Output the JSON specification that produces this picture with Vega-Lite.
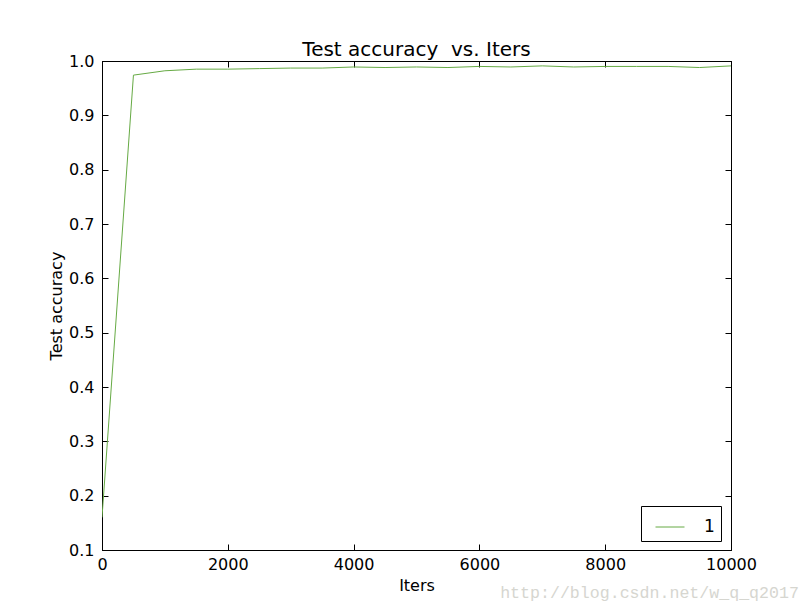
{
  "$schema": "https://vega.github.io/schema/vega-lite/v6.json",
  "width": 629,
  "height": 489,
  "autosize": "none",
  "padding": {"left": 102, "top": 61, "right": 81, "bottom": 62},
  "background": "white",
  "config": {
    "font": "DejaVu Sans",
    "view": {"stroke": "black", "strokeWidth": 1},
    "axis": {"grid": false, "labelFontSize": 16, "labelColor": "black", "titleFontSize": 16, "titleColor": "black", "titleFontWeight": "normal", "domainColor": "black", "tickColor": "black", "tickSize": -6, "labelFont": "DejaVu Sans", "titleFont": "DejaVu Sans"},
    "title": {"fontSize": 20, "fontWeight": "normal", "font": "DejaVu Sans", "color": "black", "offset": -7}
  },
  "title": {"text": "Test accuracy\u00a0 vs. Iters"},
  "data": {"values": [
    {"iter": 0, "acc": 0.16, "series": "1"},
    {"iter": 500, "acc": 0.974, "series": "1"},
    {"iter": 1000, "acc": 0.982, "series": "1"},
    {"iter": 1500, "acc": 0.985, "series": "1"},
    {"iter": 2000, "acc": 0.985, "series": "1"},
    {"iter": 2500, "acc": 0.986, "series": "1"},
    {"iter": 3000, "acc": 0.987, "series": "1"},
    {"iter": 3500, "acc": 0.987, "series": "1"},
    {"iter": 4000, "acc": 0.989, "series": "1"},
    {"iter": 4500, "acc": 0.988, "series": "1"},
    {"iter": 5000, "acc": 0.989, "series": "1"},
    {"iter": 5500, "acc": 0.988, "series": "1"},
    {"iter": 6000, "acc": 0.990, "series": "1"},
    {"iter": 6500, "acc": 0.989, "series": "1"},
    {"iter": 7000, "acc": 0.991, "series": "1"},
    {"iter": 7500, "acc": 0.989, "series": "1"},
    {"iter": 8000, "acc": 0.990, "series": "1"},
    {"iter": 8500, "acc": 0.990, "series": "1"},
    {"iter": 9000, "acc": 0.990, "series": "1"},
    {"iter": 9500, "acc": 0.988, "series": "1"},
    {"iter": 10000, "acc": 0.991, "series": "1"}
  ]},
  "layer": [
    {
      "mark": {"type": "line", "strokeWidth": 1, "clip": true},
      "encoding": {
        "x": {"field": "iter", "type": "quantitative", "scale": {"domain": [0, 10000], "nice": false, "zero": false},
              "axis": {"orient": "bottom", "title": "Iters", "values": [0, 2000, 4000, 6000, 8000, 10000], "format": "d", "labelPadding": 12, "titlePadding": 5, "labelFlush": false}},
        "y": {"field": "acc", "type": "quantitative", "scale": {"domain": [0.1, 1.0], "nice": false, "zero": false},
              "axis": {"orient": "left", "title": "Test accuracy", "values": [0.1, 0.2, 0.3, 0.4, 0.5, 0.6, 0.7, 0.8, 0.9, 1.0], "format": ".1f", "labelPadding": 14, "titlePadding": 4}},
        "color": {"field": "series", "type": "nominal", "scale": {"range": ["#66aa44"]},
                  "legend": {"title": null, "orient": "none", "legendX": 539, "legendY": 445, "symbolType": "stroke", "symbolSize": 841, "symbolStrokeWidth": 1, "symbolOffset": 8, "labelFontSize": 17, "labelColor": "black", "strokeColor": "black", "padding": 6, "labelOffset": 19, "fillColor": "white"}}
      }
    },
    {
      "mark": {"type": "line", "strokeWidth": 0, "opacity": 0},
      "encoding": {
        "x": {"field": "iter", "type": "quantitative", "scale": {"domain": [0, 10000], "nice": false, "zero": false},
              "axis": {"orient": "top", "title": null, "labels": false, "values": [0, 2000, 4000, 6000, 8000, 10000]}},
        "y": {"field": "acc", "type": "quantitative", "scale": {"domain": [0.1, 1.0], "nice": false, "zero": false},
              "axis": {"orient": "right", "title": null, "labels": false, "values": [0.1, 0.2, 0.3, 0.4, 0.5, 0.6, 0.7, 0.8, 0.9, 1.0]}}
      }
    },
    {
      "data": {"values": [{"wx": 6330, "wy": 0.021, "wm": "http://blog.csdn.net/w_q_q2017"}]},
      "mark": {"type": "text", "align": "left", "baseline": "middle", "font": "Liberation Mono", "fontSize": 16.6, "color": "#d6d6d0", "clip": false},
      "encoding": {
        "x": {"field": "wx", "type": "quantitative", "scale": {"domain": [0, 10000], "nice": false, "zero": false}, "axis": null},
        "y": {"field": "wy", "type": "quantitative", "scale": {"domain": [0.1, 1.0], "nice": false, "zero": false}, "axis": null},
        "text": {"field": "wm"}
      }
    }
  ],
  "resolve": {"axis": {"x": "independent", "y": "independent"}}
}
